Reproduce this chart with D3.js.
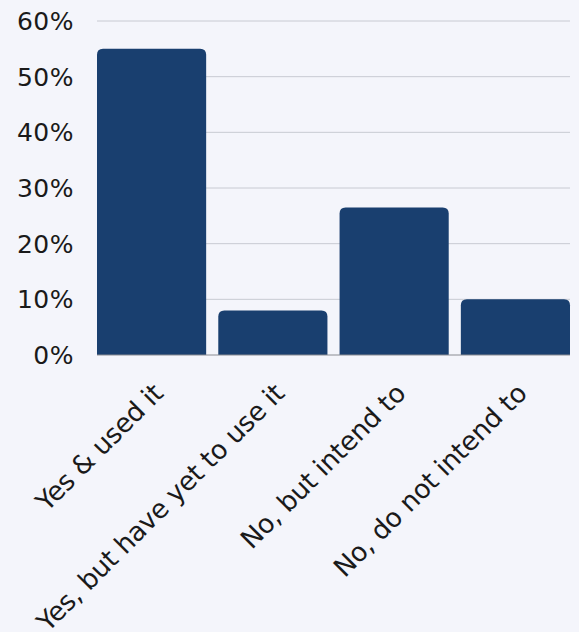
<!DOCTYPE html>
<html>
<head>
<meta charset="utf-8">
<script src="https://cdn.jsdelivr.net/npm/d3@7"></script>
<style>
  html, body { margin: 0; padding: 0; background: #f4f5fb; }
  svg { display: block; font-family: "DejaVu Sans", sans-serif; }
</style>
</head>
<body>
<svg id="chart"></svg>
<script>
const categories = ["Yes & used it", "Yes, but have yet to use it", "No, but intend to", "No, do not intend to"];
const values = [55, 8, 26.5, 10];
const yTicks = [0, 10, 20, 30, 40, 50, 60];

const width = 579, height = 632;
const margin = { top: 21, right: 9, bottom: 277, left: 97 };

const svg = d3.select("#chart").attr("width", width).attr("height", height);

const x = d3.scaleBand()
  .domain(categories)
  .range([margin.left, width - margin.right])
  .paddingInner(0.1)
  .paddingOuter(0);

const y = d3.scaleLinear()
  .domain([0, 60])
  .range([height - margin.bottom, margin.top]);

// gridlines
svg.append("g")
  .selectAll("line")
  .data(yTicks.slice(1))
  .join("line")
  .attr("x1", margin.left)
  .attr("x2", width - margin.right)
  .attr("y1", (d) => y(d))
  .attr("y2", (d) => y(d))
  .attr("stroke", "#c8cad2")
  .attr("stroke-width", 1);

// y tick labels
svg.append("g")
  .selectAll("text")
  .data(yTicks)
  .join("text")
  .attr("x", 74)
  .attr("y", (d) => y(d))
  .attr("dy", "0.36em")
  .attr("text-anchor", "end")
  .attr("font-size", 25)
  .attr("letter-spacing", 0.5)
  .attr("fill", "#1a1a1a")
  .text((d) => d + "%");

// bars with rounded top corners
const r = 6;
svg.append("g")
  .selectAll("path")
  .data(values)
  .join("path")
  .attr("fill", "#193f6f")
  .attr("d", (d, i) => {
    const x0 = x(categories[i]), w = x.bandwidth();
    const y0 = y(d), yb = y(0);
    return `M${x0},${yb}V${y0 + r}Q${x0},${y0} ${x0 + r},${y0}H${x0 + w - r}Q${x0 + w},${y0} ${x0 + w},${y0 + r}V${yb}Z`;
  });

// baseline
svg.append("line")
  .attr("x1", margin.left)
  .attr("x2", width - margin.right)
  .attr("y1", y(0))
  .attr("y2", y(0))
  .attr("stroke", "#8a8c92")
  .attr("stroke-width", 1);

// x labels rotated
svg.append("g")
  .selectAll("text")
  .data(categories)
  .join("text")
  .attr("transform", (d) => `translate(${x(d) + x.bandwidth() / 2 + 13},${y(0) + 40}) rotate(-45)`)
  .attr("text-anchor", "end")
  .attr("font-size", 26.5)
  .attr("letter-spacing", -0.3)
  .attr("fill", "#1a1a1a")
  .text((d) => d);
</script>
</body>
</html>
